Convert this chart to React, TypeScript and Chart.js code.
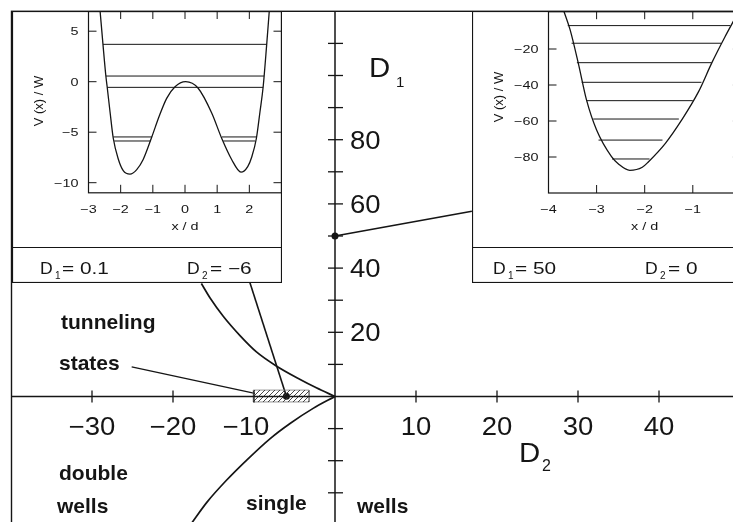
import React, { useEffect, useRef } from "react";
import { Chart, registerables } from "chart.js";

Chart.register(...registerables);

type P = [number, number];

// ---------------- main diagram: x = D2, y = D1 ----------------
const mainXRange: P = [-40, 51];
const mainYRange: P = [-45, 120];
const mainXTicks = [-30, -20, -10, 10, 20, 30, 40];
const mainXLabels = [-30, -20, -10, 10, 20, 30, 40];
const mainYTicks = [-30, -20, -10, 10, 20, 30, 40, 50, 60, 70, 80, 90, 100, 110];
const mainYLabels = [20, 40, 60, 80];

// boundary curves between double wells and single wells
const upperBoundary: P[] = [
  [-16.5, 35.2], [-15.4, 30.6], [-13.8, 25.0], [-11.7, 18.9], [-9.7, 13.9],
  [-7.3, 9.6], [-4.3, 5.3], [-2.3, 2.7], [0, 0],
];
const lowerBoundary: P[] = [
  [-17.8, -39.8], [-15.8, -32.9], [-13.4, -26.1], [-10.9, -19.8], [-8.0, -13.1],
  [-5.55, -8.4], [-2.7, -3.7], [0, 0],
];
const pointerToInset1: P[] = [[-10.5, 35.4], [-6, 0.1]];
const pointerToInset2: P[] = [[0, 50], [16.9, 57.7]];
const statesPointer: P[] = [[-25.1, 9.2], [-9.9, 1.0]];
const markedPoints: P[] = [[-6, 0.1], [0, 50]];
const tunnelingD2: P = [-10.1, -3.2];
const tunnelingD1: P = [-1.7, 2.0];

// ---------------- inset 1: D1 = 0.1, D2 = -6 ----------------
const inset1D1 = "0.1";
const inset1D2 = "\u22126";
const inset1XRange: P = [-3, 3];
const inset1YRange: P = [-11, 7];
const inset1XTicks = [-2, -1, 0, 1, 2];
const inset1XLabels = [-3, -2, -1, 0, 1, 2];
const inset1YTicks = [5, 0, -5, -10];
const inset1YLabels = [5, 0, -5, -10];
const inset1Potential: P[] = [
  [-2.64, 7.0], [-2.55, 3.7], [-2.46, 0.56], [-2.42, -0.5], [-2.33, -3.0],
  [-2.23, -5.6], [-2.07, -7.7], [-1.92, -8.8], [-1.71, -9.15], [-1.5, -8.7],
  [-1.3, -7.7], [-1.03, -5.45], [-0.8, -3.4], [-0.57, -1.65], [-0.31, -0.5],
  [0.02, 0], [0.41, -0.65], [0.83, -3.1], [1.14, -5.6], [1.45, -7.7],
  [1.74, -8.95], [1.95, -8.4], [2.08, -7.4], [2.22, -5.6], [2.33, -3.0],
  [2.43, -0.5], [2.54, 3.7], [2.62, 7.0],
];
// [energy, x start, x end]
const inset1Levels: [number, number, number][] = [
  [3.7, -2.55, 2.54],
  [0.56, -2.46, 2.46],
  [-0.56, -2.42, 2.43],
  [-5.47, -2.23, -1.03], [-5.47, 1.15, 2.21],
  [-5.87, -2.2, -1.07], [-5.87, 1.19, 2.18],
];

// ---------------- inset 2: D1 = 50, D2 = 0 ----------------
const inset2D1 = "50";
const inset2D2 = "0";
const inset2XRange: P = [-4, 0];
const inset2YRange: P = [-100, 1];
const inset2XTicks = [-3, -2, -1];
const inset2XLabels = [-4, -3, -2, -1, 0];
const inset2YTicks = [-20, -40, -60, -80];
const inset2YLabels = [-20, -40, -60, -80];
const inset2Potential: P[] = [
  [-3.68, 1], [-3.55, -9.4], [-3.38, -28], [-3.21, -48.3], [-3.0, -65],
  [-2.69, -79.8], [-2.54, -84], [-2.31, -87.4], [-2.05, -85.7], [-1.92, -82.6],
  [-1.57, -72.4], [-1.23, -59.4], [-0.88, -43.7], [-0.61, -28], [-0.33, -13.2],
  [-0.16, -4.8], [-0.06, 0],
];
const inset2Levels: [number, number, number][] = [
  [-7.0, -3.6, -0.22],
  [-16.8, -3.52, -0.41],
  [-27.6, -3.41, -0.61],
  [-38.5, -3.31, -0.82],
  [-48.7, -3.21, -1.0],
  [-58.9, -3.07, -1.29],
  [-70.6, -2.96, -1.63],
  [-81.1, -2.68, -1.9],
];

// ---------------- helpers ----------------
const INK = "#151515";
const FAMILY = "'Liberation Sans', Arial, Helvetica, sans-serif";
const pts = (a: P[]) => a.map(([x, y]) => ({ x, y }));
const fmt = (v: number) => (v < 0 ? "\u2212" + Math.abs(v) : String(v));

function drawText(
  ctx: CanvasRenderingContext2D, s: string, x: number, y: number, font: string,
  align: CanvasTextAlign = "left", baseline: CanvasTextBaseline = "alphabetic", sx = 1, rot = 0
) {
  ctx.save();
  ctx.translate(x, y);
  if (rot) ctx.rotate(rot);
  ctx.scale(sx, 1);
  ctx.font = font;
  ctx.fillStyle = INK;
  ctx.textAlign = align;
  ctx.textBaseline = baseline;
  ctx.fillText(s, 0, 0);
  ctx.restore();
}
function seg(ctx: CanvasRenderingContext2D, x1: number, y1: number, x2: number, y2: number) {
  ctx.beginPath();
  ctx.moveTo(x1, y1);
  ctx.lineTo(x2, y2);
  ctx.stroke();
}
function makeHatch(): CanvasPattern | string {
  const c = document.createElement("canvas");
  c.width = 5;
  c.height = 5;
  const g = c.getContext("2d");
  if (!g) return "#999";
  g.strokeStyle = "#333";
  g.lineWidth = 0.9;
  g.beginPath();
  g.moveTo(0, 5); g.lineTo(5, 0);
  g.moveTo(-1, 1); g.lineTo(1, -1);
  g.moveTo(4, 6); g.lineTo(6, 4);
  g.stroke();
  return g.createPattern(c, "repeat") || "#999";
}

const baseOptions = (xr: P, yr: P, padding: any) => ({
  responsive: false,
  animation: false as const,
  events: [] as any[],
  layout: { padding },
  plugins: { legend: { display: false }, tooltip: { enabled: false } },
  scales: {
    x: { type: "linear" as const, display: false, min: xr[0], max: xr[1] },
    y: { type: "linear" as const, display: false, min: yr[0], max: yr[1] },
  },
});

const lineDs = (data: P[], width: number, smooth = false) => ({
  data: pts(data),
  showLine: true,
  borderColor: INK,
  borderWidth: width,
  pointRadius: 0,
  fill: false,
  cubicInterpolationMode: smooth ? ("monotone" as const) : ("default" as const),
});

// ---------------- main chart ----------------
const mainDecor = {
  id: "mainDecor",
  afterDatasetsDraw(chart: any) {
    const { ctx, chartArea: a, scales } = chart;
    const x = scales.x, y = scales.y;
    const x0 = x.getPixelForValue(0), y0 = y.getPixelForValue(0);
    ctx.save();
    ctx.strokeStyle = INK;
    ctx.lineWidth = 1.4;
    ctx.strokeRect(a.left + 0.5, a.top, a.right - a.left, a.bottom - a.top);
    ctx.lineWidth = 1.5;
    seg(ctx, a.left, y0, a.right, y0);
    seg(ctx, x0, a.top, x0, a.bottom);
    ctx.lineWidth = 1.3;
    mainXTicks.forEach((v) => {
      const px = x.getPixelForValue(v);
      seg(ctx, px, y0 - 6, px, y0 + 6);
    });
    mainYTicks.forEach((v) => {
      const py = y.getPixelForValue(v);
      seg(ctx, x0 - 7, py, x0 + 8, py);
    });
    const tf = `25px ${FAMILY}`;
    mainXLabels.forEach((v) => {
      const px = x.getPixelForValue(v) - (v === -10 ? 8 : 0);
      drawText(ctx, fmt(v), px, y0 + 32, tf, "center", "middle", 1.1);
    });
    mainYLabels.forEach((v) => {
      drawText(ctx, fmt(v), x0 + 15, y.getPixelForValue(v) + 2, tf, "left", "middle", 1.1);
    });
    // axis names
    drawText(ctx, "D", 369, 77, `28px ${FAMILY}`, "left", "alphabetic", 1.05);
    drawText(ctx, "1", 396, 87, `15px ${FAMILY}`);
    drawText(ctx, "D", 519, 462, `28px ${FAMILY}`, "left", "alphabetic", 1.05);
    drawText(ctx, "2", 542, 471, `16px ${FAMILY}`);
    // region names
    const bf = `bold 21px ${FAMILY}`;
    drawText(ctx, "tunneling", 61, 329, bf);
    drawText(ctx, "states", 59, 370, bf);
    drawText(ctx, "double", 59, 480, bf);
    drawText(ctx, "wells", 57, 513, bf);
    drawText(ctx, "single", 246, 510, bf);
    drawText(ctx, "wells", 357, 513, bf);
    ctx.restore();
  },
};

function makeMain(canvas: HTMLCanvasElement) {
  const hatch = makeHatch();
  const [d2a, d2b] = tunnelingD2;
  const [d1a, d1b] = tunnelingD1;
  return new Chart(canvas, {
    type: "scatter",
    data: {
      datasets: [
        {
          data: pts([[d2a, d1b], [d2b, d1b]]),
          showLine: true,
          borderWidth: 0,
          pointRadius: 0,
          backgroundColor: hatch as any,
          fill: { value: d1a },
        } as any,
        {
          ...lineDs([[d2a, d1a], [d2a, d1b], [d2b, d1b], [d2b, d1a], [d2a, d1a]], 0.8),
          borderColor: "#777",
        },
        lineDs(upperBoundary, 1.7, true),
        lineDs(lowerBoundary, 1.7, true),
        lineDs(pointerToInset1, 1.6),
        lineDs(pointerToInset2, 1.6),
        lineDs(statesPointer, 1.3),
        {
          data: pts(markedPoints),
          showLine: false,
          pointRadius: 3.5,
          pointBackgroundColor: INK,
          pointBorderWidth: 0,
        } as any,
      ],
    },
    options: baseOptions(mainXRange, mainYRange, { left: 11, top: 11.3, right: 11.9, bottom: 19.05 }) as any,
    plugins: [mainDecor],
  });
}

// ---------------- insets ----------------
interface InsetCfg {
  xRange: P; yRange: P;
  xTicks: number[]; xLabels: number[]; yTicks: number[]; yLabels: number[];
  potential: P[]; levels: [number, number, number][];
  padding: any;
  boxRight: number; boxBottom: number; divider: number;
  d1: string; d2: string;
  strip: { d1x: number; d2x: number; base: number };
  yTitleY: number;
}

function insetDecor(cfg: InsetCfg) {
  return {
    id: "insetDecor",
    beforeDraw(chart: any) {
      const { ctx } = chart;
      ctx.save();
      ctx.fillStyle = "#fff";
      ctx.fillRect(0, 0, chart.width, cfg.boxBottom);
      ctx.restore();
    },
    afterDatasetsDraw(chart: any) {
      const { ctx, chartArea: a, scales } = chart;
      const x = scales.x, y = scales.y;
      ctx.save();
      ctx.strokeStyle = INK;
      ctx.lineWidth = 1.2;
      ctx.strokeRect(0.5, 0.5, cfg.boxRight, cfg.boxBottom - 1);
      seg(ctx, 0, cfg.divider, cfg.boxRight + 1, cfg.divider);
      ctx.strokeRect(a.left, a.top + 0.5, a.right - a.left, a.bottom - a.top - 0.5);
      ctx.lineWidth = 1;
      const tl = 8;
      cfg.xTicks.forEach((v) => {
        const px = x.getPixelForValue(v);
        seg(ctx, px, a.bottom, px, a.bottom - tl);
        seg(ctx, px, a.top, px, a.top + tl);
      });
      cfg.yTicks.forEach((v) => {
        const py = y.getPixelForValue(v);
        seg(ctx, a.left, py, a.left + tl, py);
        seg(ctx, a.right, py, a.right - tl, py);
      });
      const lf = `11.5px ${FAMILY}`;
      cfg.xLabels.forEach((v) => {
        drawText(ctx, fmt(v), x.getPixelForValue(v), a.bottom + 20, lf, "center", "alphabetic", 1.25);
      });
      cfg.yLabels.forEach((v) => {
        drawText(ctx, fmt(v), a.left - 10, y.getPixelForValue(v) + 1, lf, "right", "middle", 1.25);
      });
      drawText(ctx, "x / d", (a.left + a.right) / 2, a.bottom + 34, lf, "center", "middle", 1.25);
      drawText(ctx, "V (x) / W", a.left - 49, cfg.yTitleY, `13px ${FAMILY}`, "center", "middle", 1, -Math.PI / 2);
      // parameter strip
      const sf = `16px ${FAMILY}`;
      const b = cfg.strip.base;
      drawText(ctx, "D", cfg.strip.d1x, b, sf, "left", "alphabetic", 1.1);
      drawText(ctx, "1", cfg.strip.d1x + 15, b + 5, `10px ${FAMILY}`);
      drawText(ctx, "= " + cfg.d1, cfg.strip.d1x + 22, b, sf, "left", "alphabetic", 1.3);
      drawText(ctx, "D", cfg.strip.d2x, b, sf, "left", "alphabetic", 1.1);
      drawText(ctx, "2", cfg.strip.d2x + 15, b + 5, `10px ${FAMILY}`);
      drawText(ctx, "= " + cfg.d2, cfg.strip.d2x + 23, b, sf, "left", "alphabetic", 1.3);
      ctx.restore();
    },
  };
}

function makeInset(canvas: HTMLCanvasElement, cfg: InsetCfg) {
  const datasets: any[] = [lineDs(cfg.potential, 1.3, true)];
  cfg.levels.forEach(([e, xa, xb]) => datasets.push(lineDs([[xa, e], [xb, e]], 1)));
  return new Chart(canvas, {
    type: "scatter",
    data: { datasets },
    options: baseOptions(cfg.xRange, cfg.yRange, cfg.padding) as any,
    plugins: [insetDecor(cfg)],
  });
}

const inset1Cfg: InsetCfg = {
  xRange: inset1XRange, yRange: inset1YRange,
  xTicks: inset1XTicks, xLabels: inset1XLabels, yTicks: inset1YTicks, yLabels: inset1YLabels,
  potential: inset1Potential, levels: inset1Levels,
  padding: { left: 76.5, right: 0.5, top: 0, bottom: 90.2 },
  boxRight: 269, boxBottom: 272, divider: 236.5,
  d1: inset1D1, d2: inset1D2,
  strip: { d1x: 28, d2x: 175, base: 262.5 },
  yTitleY: 90,
};
const inset2Cfg: InsetCfg = {
  xRange: inset2XRange, yRange: inset2YRange,
  xTicks: inset2XTicks, xLabels: inset2XLabels, yTicks: inset2YTicks, yLabels: inset2YLabels,
  potential: inset2Potential, levels: inset2Levels,
  padding: { left: 76.5, right: 21.1, top: 0.2, bottom: 90 },
  boxRight: 320, boxBottom: 272, divider: 236.5,
  d1: inset2D1, d2: inset2D2,
  strip: { d1x: 21, d2x: 173, base: 262.5 },
  yTitleY: 86,
};

export default function App() {
  const mainRef = useRef<HTMLCanvasElement>(null);
  const in1Ref = useRef<HTMLCanvasElement>(null);
  const in2Ref = useRef<HTMLCanvasElement>(null);
  useEffect(() => {
    const charts = [
      makeMain(mainRef.current as HTMLCanvasElement),
      makeInset(in1Ref.current as HTMLCanvasElement, inset1Cfg),
      makeInset(in2Ref.current as HTMLCanvasElement, inset2Cfg),
    ];
    return () => charts.forEach((c) => c.destroy());
  }, []);
  const abs = (l: number, t: number, w: number, h: number): React.CSSProperties => ({
    position: "absolute", left: l, top: t, width: w, height: h, display: "block",
  });
  return (
    <div style={{ position: "fixed", left: 0, top: 0, width: 733, height: 522, overflow: "hidden", background: "#fff" }}>
      <canvas ref={mainRef} width={760} height={560} style={abs(0, 0, 760, 560)} />
      <canvas ref={in1Ref} width={270} height={272} style={abs(12, 11, 270, 272)} />
      <canvas ref={in2Ref} width={290} height={272} style={abs(472, 11, 290, 272)} />
    </div>
  );
}
